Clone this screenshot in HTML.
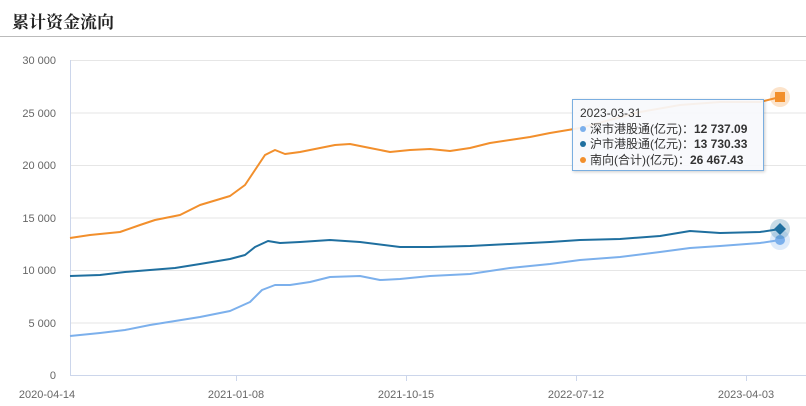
<!DOCTYPE html>
<html><head><meta charset="utf-8"><style>
body{margin:0;width:806px;height:406px;background:#fff;font-family:"Liberation Sans","Noto Sans CJK SC",sans-serif;overflow:hidden;position:relative}
.t{position:absolute;left:12px;top:8px;font-size:17px;font-weight:bold;color:#222;font-family:"Noto Serif CJK SC","Noto Sans CJK SC",serif}
.hl{position:absolute;left:0;top:36px;width:806px;height:1px;background:#bbb}
.tip{position:absolute;left:572px;top:99px;width:192px;height:72px;background:rgba(247,249,252,0.92);border:1px solid #7aaee0;box-shadow:1px 1px 3px rgba(0,0,0,.2);font-size:12px;color:#333;box-sizing:border-box;padding:6px 7px;line-height:15.5px}
.tip b{font-weight:bold}
.d{display:inline-block;width:6px;height:6px;border-radius:3px;margin-right:4px;vertical-align:1px}
</style></head><body>
<div class="t">累计资金流向</div><div class="hl"></div>
<svg width="806" height="406" style="position:absolute;left:0;top:0">
<g stroke="#e6e6e6" stroke-width="1">
<line x1="70" y1="60.5" x2="806" y2="60.5"/><line x1="70" y1="113" x2="806" y2="113"/><line x1="70" y1="165.5" x2="806" y2="165.5"/><line x1="70" y1="218" x2="806" y2="218"/><line x1="70" y1="270.5" x2="806" y2="270.5"/><line x1="70" y1="323" x2="806" y2="323"/>
</g>
<line x1="70.5" y1="60" x2="70.5" y2="375" stroke="#ccd6eb"/>
<line x1="70" y1="375.5" x2="806" y2="375.5" stroke="#ccd6eb"/>
<g font-size="11" fill="#666" text-anchor="end">
<text x="56" y="64">30 000</text><text x="56" y="117">25 000</text><text x="56" y="169">20 000</text><text x="56" y="222">15 000</text><text x="56" y="274">10 000</text><text x="56" y="327">5 000</text><text x="56" y="379">0</text>
</g>
<g font-size="11" fill="#666" text-anchor="middle">
<text x="47" y="398">2020-04-14</text><text x="236" y="398">2021-01-08</text><text x="406" y="398">2021-10-15</text><text x="576" y="398">2022-07-12</text><text x="746" y="398">2023-04-03</text>
</g>
<g stroke="#ccd6eb"><line x1="236.5" y1="375" x2="236.5" y2="381"/><line x1="406.5" y1="375" x2="406.5" y2="381"/><line x1="576.5" y1="375" x2="576.5" y2="381"/><line x1="746.5" y1="375" x2="746.5" y2="381"/></g>
<g fill="none" stroke-width="2" stroke-linejoin="round">
<polyline stroke="#f28f2c" points="70,238 90,235 120,232 140,225 155,220 180,215 200,205 230,196 245,185 255,170 265,155 275,150 285,154 300,152 320,148 335,145 350,144 370,148 390,152 410,150 430,149 450,151 470,148 490,143 510,140 530,137 550,133 580,128 610,120 640,112 680,105 720,102 760,102 780,97"/>
<polyline stroke="#1f6f9f" points="70,276 100,275 125,272 150,270 175,268 200,264 230,259 245,255 255,247 268,241 280,243 300,242 330,240 360,242 400,247 430,247 470,246 510,244 550,242 580,240 620,239 660,236 690,231 720,233 760,232 780,229"/>
<polyline stroke="#7cb0ec" points="70,336 100,333 125,330 150,325 175,321 200,317 230,311 250,302 262,290 275,285 290,285 310,282 330,277 360,276 380,280 400,279 430,276 470,274 510,268 550,264 580,260 620,257 660,252 690,248 720,246 760,243 780,240"/>
</g>
<circle cx="780" cy="97" r="10" fill="#f28f2c" opacity="0.25"/><rect x="775" y="92" width="10" height="10" fill="#f28f2c"/>
<circle cx="780" cy="240" r="10" fill="#7cb0ec" opacity="0.25"/><circle cx="780" cy="240" r="5" fill="#7cb0ec"/>
<circle cx="780" cy="229" r="10" fill="#1f6f9f" opacity="0.25"/><polygon points="780,223 786,229 780,235 774,229" fill="#1f6f9f"/>
</svg>
<div class="tip">2023-03-31<br><span class="d" style="background:#7cb0ec"></span>深市港股通(亿元)：<b>12 737.09</b><br><span class="d" style="background:#1f6f9f"></span>沪市港股通(亿元)：<b>13 730.33</b><br><span class="d" style="background:#f28f2c"></span>南向(合计)(亿元)：<b>26 467.43</b></div>
</body></html>
